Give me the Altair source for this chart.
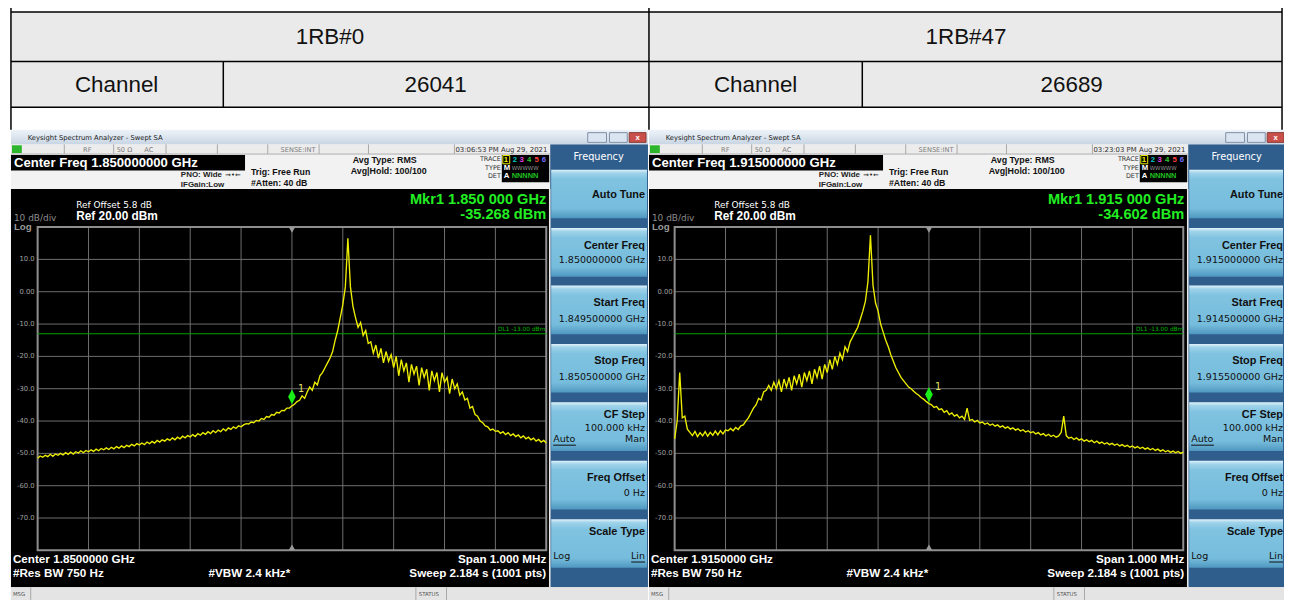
import altair as alt
import numpy as np
import pandas as pd

# ------------------------------------------------------------------ data
TABLE_HEAD = ["1RB#0", "1RB#47"]
TABLE_LABEL = ["Channel", "Channel"]
CHANNELS = ["26041", "26689"]

CENTER_MHZ = [1850.0, 1915.0]
SPAN_MHZ = 1.0
CENTER_TXT = ["Center Freq 1.850000000 GHz", "Center Freq 1.915000000 GHz"]
SK_CENTER = ["1.850000000 GHz", "1.915000000 GHz"]
SK_START = ["1.849500000 GHz", "1.914500000 GHz"]
SK_STOP = ["1.850500000 GHz", "1.915500000 GHz"]
FOOT_CENTER = ["Center 1.8500000 GHz", "Center 1.9150000 GHz"]
TIMESTAMP = ["03:06:53 PM Aug 29, 2021", "03:23:03 PM Aug 29, 2021"]
MKR_FREQ_TXT = ["Mkr1 1.850 000 GHz", "Mkr1 1.915 000 GHz"]
MKR_DBM = [-35.268, -34.602]
MKR_DBM_TXT = ["-35.268 dBm", "-34.602 dBm"]
DL_DBM = -13.0
Y_BOTTOM, Y_TOP = -80.0, 20.0
Y_TICKS = [10, 0, -10, -20, -30, -40, -50, -60, -70]
Y_TICK_LABELS = ["10.0", "0.00", "-10.0", "-20.0", "-30.0", "-40.0", "-50.0", "-60.0", "-70.0"]

# trace values in dBm, 201 sweep points from center-500 kHz to center+500 kHz
LEFT_TRACE = [
    -51.5, -50.8, -51.2, -50.6, -51.0, -50.3, -50.9, -50.2, -50.6, -50.0,
    -50.5, -49.8, -50.3, -49.6, -50.2, -49.5, -49.9, -49.2, -49.8, -49.1,
    -49.5,
    -48.9, -49.4, -48.7, -49.2, -48.5, -48.9, -48.3, -48.8, -48.1, -48.6,
    -47.9, -48.4, -47.7, -48.2, -47.5, -47.9, -47.2, -47.7, -47.0, -47.4,
    -46.8, -47.3, -46.5, -47.0, -46.3, -46.8, -46.0, -46.5, -45.8, -46.2,
    -45.5, -46.0, -45.2, -45.8, -45.0, -45.5, -44.7, -45.2, -44.5, -44.9,
    -44.2, -44.8, -43.9, -44.4, -43.6, -44.1, -43.3, -43.9, -43.0, -43.6,
    -42.8, -43.3, -42.4, -43.0, -42.1, -42.6, -41.8, -42.3, -41.5, -41.8,
    -41.2, -40.8, -40.9, -40.3, -40.5, -39.8, -40.0, -39.2, -39.5, -38.6,
    -38.8, -38.0, -38.2, -37.3, -37.5, -36.7, -36.8, -36.0, -36.0, -35.3,
    -34.8, -34.0, -33.6, -32.2, -33.0, -31.0, -29.5, -30.5, -28.0, -28.8,
    -26.0, -25.0, -23.5, -22.0, -20.5, -18.5, -15.0, -12.0, -8.0, -4.0,
    1.5, 16.5, 1.5, -4.5, -8.0, -11.0, -9.5, -13.5, -12.0, -16.0,
    -15.5, -19.0, -16.5, -20.5, -17.5, -22.0, -18.5, -21.5, -19.5, -23.5,
    -20.0, -26.0, -21.0, -24.5, -22.0, -28.0, -22.5, -25.5, -23.0, -29.0,
    -23.5, -26.5, -24.0, -30.5, -24.5, -27.5, -25.0, -31.0, -25.0, -28.0,
    -26.5, -31.5, -27.0, -30.0, -28.5, -32.0, -31.0, -33.5, -33.0, -36.0,
    -35.5, -38.0, -38.5, -40.0, -40.5, -41.5, -41.8, -42.8, -42.5, -43.2,
    -43.0, -43.8, -43.3, -44.2, -43.6, -44.5, -44.0, -44.8, -44.3, -45.2,
    -44.6, -45.5, -45.0, -45.8, -45.3, -46.2, -45.7, -46.5, -46.0, -46.8,
]
RIGHT_TRACE = [
    -45.5, -40.0, -25.0, -39.0, -38.5, -42.5, -43.5, -44.5, -43.2, -44.8,
    -43.6, -44.6, -43.3, -44.7, -43.5, -44.4, -43.1, -44.3, -43.0, -44.0,
    -42.8,
    -43.0, -42.3, -43.0, -42.0, -42.6, -41.5, -41.2, -40.0, -39.0, -37.5,
    -36.0, -35.0, -33.0, -33.5, -31.0, -30.5, -29.0, -30.5, -28.0, -30.0,
    -27.5, -31.0, -27.0, -29.5, -26.5, -30.5, -26.0, -28.5, -25.5, -29.5,
    -25.0, -27.5, -24.5, -28.5, -24.0, -26.5, -23.0, -27.0, -22.5, -25.0,
    -21.0, -24.0, -20.0, -22.5, -19.0, -21.0, -17.0, -18.5, -15.5, -14.0,
    -12.5, -11.0, -8.5, -6.0, -3.0, 3.0, 17.5, 2.0, -3.5, -6.0,
    -10.0, -12.5, -15.0, -17.0, -19.5, -21.5, -23.5, -25.0, -26.5, -27.5,
    -28.5, -29.5, -30.0, -30.8, -31.5, -32.0, -32.8, -33.3, -34.0, -34.6,
    -35.0, -35.8, -35.5, -36.5, -36.2, -37.3, -36.8, -38.0, -37.5, -38.5,
    -38.0, -39.0, -38.5, -39.5, -36.0, -39.8, -39.5, -40.3, -39.8, -40.6,
    -40.3, -41.0, -40.6, -41.3, -40.9, -41.6, -41.2, -41.9, -41.5, -42.2,
    -41.8, -42.5, -42.1, -42.8, -42.4, -43.1, -42.7, -43.4, -43.0, -43.6,
    -43.3, -44.0, -43.6, -44.3, -43.9, -44.6, -44.1, -44.8, -44.4, -45.0,
    -44.6, -43.5, -38.5, -44.5, -45.3, -45.0, -45.7, -45.2, -45.9, -45.5,
    -46.2, -45.8, -46.4, -46.0, -46.7, -46.2, -46.9, -46.5, -47.1, -46.7,
    -47.3, -46.9, -47.5, -47.1, -47.7, -47.3, -47.9, -47.5, -48.1, -47.7,
    -48.3, -47.9, -48.5, -48.1, -48.7, -48.3, -48.9, -48.5, -49.1, -48.7,
    -49.3, -48.9, -49.5, -49.1, -49.7, -49.3, -49.8, -49.4, -50.0, -49.6,
]
TRACES = [LEFT_TRACE, RIGHT_TRACE]

SOFTKEY_TITLES = ["Auto Tune", "Center Freq", "Start Freq", "Stop Freq", "CF Step", "Freq Offset", "Scale Type"]
CF_STEP_TXT = "100.000 kHz"
FREQ_OFFSET_TXT = "0 Hz"

# ------------------------------------------------------------------ layout
W, H = 1276, 592
SX, SY = W / 1292.0, H / 608.0
FN = "DejaVu Sans"
FB = "Liberation Sans"
LX = alt.Scale(domain=[0, 1292], range=[0, W], nice=False, zero=False)
LY = alt.Scale(domain=[0, 608], range=[0, H], nice=False, zero=False)

layers = []


def rects(rows, **mk):
    df = pd.DataFrame(rows, columns=["x0", "y0", "x1", "y1", "fill"])
    return alt.Chart(df).mark_rect(**mk).encode(
        x=alt.X("x0:Q", scale=LX, axis=None), x2="x1:Q",
        y=alt.Y("y0:Q", scale=LY, axis=None), y2="y1:Q",
        color=alt.Color("fill:N", scale=None))


def srects(rows):
    df = pd.DataFrame(rows, columns=["x0", "y0", "x1", "y1", "fill", "stk"])
    return alt.Chart(df).mark_rect(strokeWidth=1).encode(
        x=alt.X("x0:Q", scale=LX, axis=None), x2="x1:Q",
        y=alt.Y("y0:Q", scale=LY, axis=None), y2="y1:Q",
        fill=alt.Fill("fill:N", scale=None), stroke=alt.Stroke("stk:N", scale=None))


def grad_rects(rows, stops):
    df = pd.DataFrame(rows, columns=["x0", "y0", "x1", "y1"])
    g = alt.LinearGradient(gradient="linear", x1=0, x2=0, y1=0, y2=1,
                           stops=[alt.GradientStop(color=c, offset=o) for o, c in stops])
    return alt.Chart(df).mark_rect(color=g).encode(
        x=alt.X("x0:Q", scale=LX, axis=None), x2="x1:Q",
        y=alt.Y("y0:Q", scale=LY, axis=None), y2="y1:Q")


def rules(rows):
    df = pd.DataFrame(rows, columns=["x0", "y0", "x1", "y1", "col", "w"])
    return alt.Chart(df).mark_rule().encode(
        x=alt.X("x0:Q", scale=LX, axis=None), x2="x1:Q",
        y=alt.Y("y0:Q", scale=LY, axis=None), y2="y1:Q",
        color=alt.Color("col:N", scale=None),
        strokeWidth=alt.StrokeWidth("w:Q", scale=None))


def texts(rows, align="left", weight="normal", font=FN):
    df = pd.DataFrame(rows, columns=["x", "y", "t", "s", "col"])
    df["s"] = df["s"] * SY
    return alt.Chart(df).mark_text(align=align, baseline="middle", fontWeight=weight, font=font).encode(
        x=alt.X("x:Q", scale=LX, axis=None), y=alt.Y("y:Q", scale=LY, axis=None),
        text="t:N", size=alt.Size("s:Q", scale=None), color=alt.Color("col:N", scale=None))


# ---- table
cell_rows = [(3, 4, 649, 55, "#eaeaea"), (649, 4, 1290, 55, "#eaeaea"),
             (3, 55, 218, 102, "#eaeaea"), (218, 55, 649, 102, "#eaeaea"),
             (649, 55, 865, 102, "#eaeaea"), (865, 55, 1290, 102, "#eaeaea")]
bg_rows = list(cell_rows)
line_rows = [(3, 4, 1290, 4, "#000", 1.5), (3, 55, 1290, 55, "#000", 1.5), (3, 102, 1290, 102, "#000", 1.5),
             (3, 0, 3, 125, "#000", 1.5), (649, 0, 649, 125, "#000", 1.5), (1290, 0, 1290, 125, "#000", 1.5),
             (218, 55, 218, 102, "#000", 1.5), (865, 55, 865, 102, "#000", 1.5)]
table_txt = [(326, 30, TABLE_HEAD[0], 23, "#111"), (970, 30, TABLE_HEAD[1], 23, "#111"),
             (110, 79, TABLE_LABEL[0], 23, "#111"), (433, 79, CHANNELS[0], 23, "#111"),
             (757, 79, TABLE_LABEL[1], 23, "#111"), (1077, 79, CHANNELS[1], 23, "#111")]

stroke_rows = []
title_rows = []
button_rows = []
txt_nl, txt_bl, txt_br, txt_nr, txt_nc, txt_bc = [], [], [], [], [], []
trace_layers = []

BTN_TOPS = [166, 226, 285, 345, 405, 465, 525]
BTN_TITLE_Y = [192, 244, 303, 363, 418, 483, 538]

for k in range(2):
    ox = 646 * k
    R = min(648 + ox, 1292)
    # chrome backgrounds
    bg_rows += [
        (ox + 3, 140, ox + 549, 150, "#ececec"),
        (ox + 3, 150, ox + 549, 186, "#f2f2f2"),
        (ox + 3, 151, ox + 240, 167, "#000000"),
        (ox + 500, 151, ox + 548, 179, "#000000"),
        (ox + 3, 186, ox + 549, 595, "#000000"),
        (ox + 549, 140, R, 595, "#2f5e8d"),
        (ox + 3, 595, R, 608, "#e4e4e4"),
        (ox + 4, 141, ox + 14, 149, "#2db52d"),
        (ox + 5, 128, ox + 14, 137, "#c8453c"),
    ]
    title_rows.append((ox + 3, 125, R, 140))
    stroke_rows += [
        (ox + 587, 128, ox + 606, 138, "#dbe5f1", "#7f8fa6"),
        (ox + 609, 128, ox + 627, 138, "#dbe5f1", "#7f8fa6"),
        (ox + 629, 128, ox + 646, 138, "#c9504a", "#8a3b36"),
        (ox + 501, 151.5, ox + 508, 160, "#000000", "#e6e600"),
    ]
    for t in BTN_TOPS:
        button_rows.append((ox + 550, t, R - 1, t + 50))
    # lines
    for dx in [57, 107, 160, 212, 263, 315, 365, 452]:
        line_rows.append((ox + dx, 140, ox + dx, 150, "#a9a9a9", 1))
    line_rows += [(ox + 3, 150, ox + 549, 150, "#b0b0b0", 1),
                  (ox + 548.5, 186, ox + 548.5, 595, "#e8e8e8", 1.5),
                  (ox + 23, 595, ox + 23, 608, "#a9a9a9", 1),
                  (ox + 413, 595, ox + 413, 608, "#a9a9a9", 1),
                  (ox + 444, 595, ox + 444, 608, "#a9a9a9", 1),
                  (ox + 552, 449, ox + 575, 449, "#111", 1),
                  (ox + 631, 569, ox + 645, 569, "#111", 1)]
    # texts
    txt_nl += [
        (ox + 20, 133, "Keysight Spectrum Analyzer - Swept SA", 7, "#1a1a1a"),
        (ox + 76, 145.5, "RF", 6.8, "#7a7a7a"),
        (ox + 110, 145.5, "50 \u03a9", 6.8, "#7a7a7a"),
        (ox + 138, 145.5, "AC", 6.8, "#7a7a7a"),
        (ox + 276, 145.5, "SENSE:INT", 6.8, "#7a7a7a"),
        (ox + 453, 145.5, TIMESTAMP[k], 7.1, "#333333"),
        (ox + 69, 202, "Ref Offset 5.8 dB", 9.2, "#ffffff"),
        (ox + 6, 216, "10 dB/div", 9.2, "#8c8c8c"),
        (ox + 220, 171, "\u2192\u2022\u2190", 7, "#222"),
        (ox + 5, 601.5, "MSG", 5.5, "#555"),
        (ox + 416, 601.5, "STATUS", 5.5, "#555"),
        (ox + 552, 443, "Auto", 9.8, "#111"),
        (ox + 552, 563, "Log", 9.8, "#111"),
        (ox + 510, 164, "WWWWW", 5.6, "#9a9a9a"),
    ]
    txt_nc += [(ox + 598, 153, "Frequency", 10, "#ffffff")]
    txt_nr += [
        (ox + 499, 155.5, "TRACE", 6.6, "#333"),
        (ox + 499, 164, "TYPE", 6.6, "#333"),
        (ox + 499, 172.5, "DET", 6.6, "#333"),
        (ox + 645, 259, SK_CENTER[k], 9.8, "#111"),
        (ox + 645, 319, SK_START[k], 9.8, "#111"),
        (ox + 645, 379, SK_STOP[k], 9.8, "#111"),
        (ox + 645, 431, CF_STEP_TXT, 9.8, "#111"),
        (ox + 645, 443, "Man", 9.8, "#111"),
        (ox + 645, 498, FREQ_OFFSET_TXT, 9.8, "#111"),
        (ox + 645, 563, "Lin", 9.8, "#111"),
    ]
    txt_bl += [
        (ox + 6, 159, CENTER_TXT[k], 13.5, "#ffffff"),
        (ox + 175, 171, "PNO: Wide", 8.2, "#222"),
        (ox + 175, 181.5, "IFGain:Low", 8.2, "#222"),
        (ox + 246, 168, "Trig: Free Run", 9, "#111"),
        (ox + 246, 180, "#Atten: 40 dB", 9, "#111"),
        (ox + 349, 156.5, "Avg Type: RMS", 9.1, "#111"),
        (ox + 347, 167.5, "Avg|Hold: 100/100", 9.1, "#111"),
        (ox + 69, 214, "Ref 20.00 dBm", 12.2, "#ffffff"),
        (ox + 6, 225, "Log", 10, "#9a9a9a"),
        (ox + 5, 566, FOOT_CENTER[k], 12, "#ffffff"),
        (ox + 5, 580, "#Res BW 750 Hz", 12, "#ffffff"),
        (ox + 203, 580, "#VBW 2.4 kHz*", 12, "#ffffff"),
        (ox + 502, 156, "1", 8, "#f0f000"),
        (ox + 511, 156, "2", 8, "#00c8c8"),
        (ox + 518, 156, "3", 8, "#e040e0"),
        (ox + 525.5, 156, "4", 8, "#30c030"),
        (ox + 533, 156, "5", 8, "#ff4040"),
        (ox + 540.5, 156, "6", 8, "#7070ff"),
        (ox + 502, 164.5, "M", 8, "#ffffff"),
        (ox + 502, 173, "A", 8, "#ffffff"),
        (ox + 510, 173, "NNNNN", 7.6, "#20c020"),
    ]
    txt_br += [
        (ox + 545, 197, MKR_FREQ_TXT[k], 15, "#22ee22"),
        (ox + 545, 212.5, MKR_DBM_TXT[k], 15, "#22ee22"),
        (ox + 545, 566, "Span 1.000 MHz", 12, "#ffffff"),
        (ox + 545, 580, "Sweep  2.184 s (1001 pts)", 12, "#ffffff"),
    ]
    for t, y in zip(SOFTKEY_TITLES, BTN_TITLE_Y):
        txt_br.append((ox + 645, y, t, 11.2, "#111"))
    txt_bc += [(ox + 637.5, 133, "x", 8, "#ffffff")]

    # ---- plot (trace scales)
    c = CENTER_MHZ[k]
    px0, px1 = 30 + 645 * k, 545 + 645 * k
    TX = alt.Scale(domain=[c - SPAN_MHZ / 2, c + SPAN_MHZ / 2], range=[px0 * SX, px1 * SX], nice=False, zero=False)
    TY = alt.Scale(domain=[Y_BOTTOM, Y_TOP], range=[557 * SY, 225 * SY], nice=False, zero=False)
    gx = pd.DataFrame({"f": [c - 0.5 + 0.1 * i for i in range(1, 10)], "lo": Y_BOTTOM, "hi": Y_TOP})
    gy = pd.DataFrame({"d": Y_TICKS, "fa": c - 0.5, "fb": c + 0.5})
    frame = pd.DataFrame({"fa": [c - 0.5], "fb": [c + 0.5], "lo": [Y_BOTTOM], "hi": [Y_TOP]})
    trace_layers.append(alt.Chart(gx).mark_rule(color="#6e6e6e", strokeWidth=1).encode(
        x=alt.X("f:Q", scale=TX, axis=None), y=alt.Y("lo:Q", scale=TY, axis=None), y2="hi:Q"))
    trace_layers.append(alt.Chart(gy).mark_rule(color="#6e6e6e", strokeWidth=1).encode(
        y=alt.Y("d:Q", scale=TY, axis=None), x=alt.X("fa:Q", scale=TX, axis=None), x2="fb:Q"))
    trace_layers.append(alt.Chart(frame).mark_rect(fillOpacity=0, stroke="#8e8e8e", strokeWidth=2).encode(
        x=alt.X("fa:Q", scale=TX, axis=None), x2="fb:Q", y=alt.Y("lo:Q", scale=TY, axis=None), y2="hi:Q"))
    dl = pd.DataFrame({"d": [DL_DBM], "fa": [c - 0.5], "fb": [c + 0.5]})
    trace_layers.append(alt.Chart(dl).mark_rule(color="#00a000", strokeWidth=1).encode(
        y=alt.Y("d:Q", scale=TY, axis=None), x=alt.X("fa:Q", scale=TX, axis=None), x2="fb:Q"))
    vals = TRACES[k]
    freqs = np.linspace(c - 0.5, c + 0.5, len(vals))
    tr = pd.DataFrame({"f": freqs, "d": vals})
    trace_layers.append(alt.Chart(tr).mark_line(color="#eeee00", strokeWidth=1.35).encode(
        x=alt.X("f:Q", scale=TX, axis=None), y=alt.Y("d:Q", scale=TY, axis=None)))
    tri = pd.DataFrame({"f": [c, c], "d": [Y_TOP, Y_BOTTOM]})
    trace_layers.append(alt.Chart(tri.iloc[[0]]).mark_point(shape="triangle-down", filled=True, color="#9a9a9a", size=40, opacity=1, yOffset=3).encode(
        x=alt.X("f:Q", scale=TX, axis=None), y=alt.Y("d:Q", scale=TY, axis=None)))
    trace_layers.append(alt.Chart(tri.iloc[[1]]).mark_point(shape="triangle-up", filled=True, color="#9a9a9a", size=40, opacity=1, yOffset=-3).encode(
        x=alt.X("f:Q", scale=TX, axis=None), y=alt.Y("d:Q", scale=TY, axis=None)))
    mk = pd.DataFrame({"f": [c], "d": [MKR_DBM[k]], "t": ["1"]})
    trace_layers.append(alt.Chart(mk).mark_point(shape="M0,-1L0.5,0L0,1L-0.5,0Z", filled=True, color="#18f018", size=230, opacity=1, yOffset=-9).encode(
        x=alt.X("f:Q", scale=TX, axis=None), y=alt.Y("d:Q", scale=TY, axis=None)))
    trace_layers.append(alt.Chart(mk).mark_text(font=FN, fontSize=10 * SY, color="#e4e46a", align="left", baseline="middle", dx=6, dy=-17).encode(
        x=alt.X("f:Q", scale=TX, axis=None), y=alt.Y("d:Q", scale=TY, axis=None), text="t:N"))
    tk = pd.DataFrame({"x": [ox + 27] * len(Y_TICKS), "d": Y_TICKS, "t": Y_TICK_LABELS})
    trace_layers.append(alt.Chart(tk).mark_text(font=FN, fontSize=7 * SY, color="#a0a0a0", align="right", baseline="middle").encode(
        x=alt.X("x:Q", scale=LX, axis=None), y=alt.Y("d:Q", scale=TY, axis=None), text="t:N"))
    dlt = pd.DataFrame({"x": [ox + 544], "d": [DL_DBM], "t": ["DL1 -13.00 dBm"]})
    trace_layers.append(alt.Chart(dlt).mark_text(font=FN, fontSize=6 * SY, color="#00b400", align="right", baseline="middle", dy=-5).encode(
        x=alt.X("x:Q", scale=LX, axis=None), y=alt.Y("d:Q", scale=TY, axis=None), text="t:N"))

layers.append(rects(bg_rows))
layers.append(grad_rects(title_rows, [(0, "#eef3f8"), (0.5, "#dce5ef"), (1, "#c8d5e3")]))
layers.append(grad_rects(button_rows, [(0, "#e2f3fb"), (0.07, "#9fd3ea"), (0.2, "#80c3e1"), (0.8, "#76bcdc"), (1, "#4f97c0")]))
layers.append(srects(stroke_rows))
layers += trace_layers
layers.append(rules(line_rows))
layers.append(texts(table_txt, align="center", font=FB))
layers.append(texts(txt_nl, align="left"))
layers.append(texts(txt_nc, align="center"))
layers.append(texts(txt_nr, align="right"))
layers.append(texts(txt_bl, align="left", weight="bold", font=FB))
layers.append(texts(txt_br, align="right", weight="bold", font=FB))
layers.append(texts(txt_bc, align="center", weight="bold", font=FB))

chart = alt.layer(*layers).resolve_scale(
    x="independent", y="independent", color="independent", size="independent"
).properties(
    width=W, height=H, padding=0, background="white",
    autosize=alt.AutoSizeParams(type="none"),
).configure_view(stroke=None)

chart.save("out.html", embed_options={"renderer": "svg", "actions": False})
